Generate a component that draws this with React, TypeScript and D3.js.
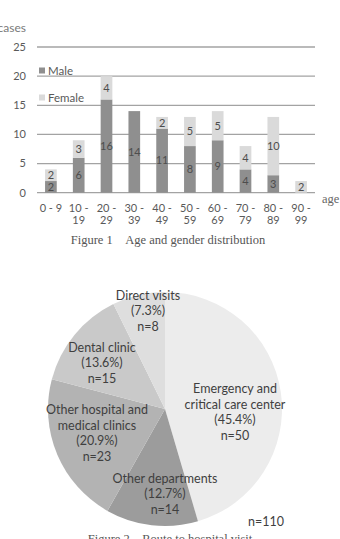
import React from "react";
import * as d3 from "d3";

// Figure 1: age and gender distribution
const ageGroups = ["0 - 9", "10 - 19", "20 - 29", "30 - 39", "40 - 49", "50 - 59", "60 - 69", "70 - 79", "80 - 89", "90 - 99"];
const maleCounts = [2, 6, 16, 14, 11, 8, 9, 4, 3, 0];
const femaleCounts = [2, 3, 4, 0, 2, 5, 5, 4, 10, 2];
const yTicks = [0, 5, 10, 15, 20, 25];

// Figure 2: route to hospital visit
const routeNames = [
  ["Emergency and", "critical care center"],
  ["Other departments"],
  ["Other hospital and", "medical clinics"],
  ["Dental clinic"],
  ["Direct visits"],
];
const routeCounts = [50, 14, 23, 15, 8];
const routePercents = ["45.4%", "12.7%", "20.9%", "13.6%", "7.3%"];
const routeTotal = 110;

const W = 340;
const H = 539;
const SANS = "Lato, 'Open Sans', sans-serif";
const SERIF = "'Liberation Serif', 'DejaVu Serif', serif";

const MALE_COLOR = "#8f8f8f";
const FEMALE_COLOR = "#dadada";
const SLICE_COLORS = ["#ececec", "#9c9c9c", "#b3b3b3", "#c9c9c9", "#dedede"];
// label anchor (center of text block) for each slice
const SLICE_LABEL_POS: [number, number][] = [
  [235, 412],
  [165, 494],
  [97, 433],
  [102, 363],
  [148, 311],
];

function BarChart() {
  const x = d3.scaleBand<string>().domain(ageGroups).range([37, 315]).paddingInner(0.58).paddingOuter(0.29);
  const y = d3.scaleLinear().domain([0, 25]).range([192.7, 47]);
  const stacked = ageGroups.map((g, i) => ({ g, m: maleCounts[i], f: femaleCounts[i] }));
  const labelColor = "#4d4d4d";
  return (
    <g>
      <text x={26} y={32} textAnchor="end" fontFamily={SANS} fontSize={12} fill="#7a7a7a">cases</text>
      {yTicks.map((t) => (
        <g key={t}>
          <line x1={37} x2={315} y1={y(t)} y2={y(t)} stroke="#a3a3a3" strokeWidth={1.3} />
          <text x={26} y={y(t)} dy="0.35em" textAnchor="end" fontFamily={SANS} fontSize={11} fill="#595959">{t}</text>
        </g>
      ))}
      {stacked.map((d) => {
        const x0 = x(d.g)!;
        const bw = x.bandwidth();
        const cx = x0 + bw / 2;
        return (
          <g key={d.g}>
            {d.m > 0 && <rect x={x0} width={bw} y={y(d.m)} height={y(0) - y(d.m)} fill={MALE_COLOR} />}
            {d.f > 0 && <rect x={x0} width={bw} y={y(d.m + d.f)} height={y(d.m) - y(d.m + d.f)} fill={FEMALE_COLOR} />}
            {d.m > 0 && (
              <text x={cx} y={(y(0) + y(d.m)) / 2} dy="0.35em" textAnchor="middle" fontFamily={SANS} fontSize={11} fill={labelColor}>{d.m}</text>
            )}
            {d.f > 0 && (
              <text x={cx} y={(y(d.m) + y(d.m + d.f)) / 2} dy="0.35em" textAnchor="middle" fontFamily={SANS} fontSize={11} fill={labelColor}>{d.f}</text>
            )}
            {d.g.split(" - ").length > 1 && d.g !== "0 - 9" ? (
              <text textAnchor="middle" fontFamily={SANS} fontSize={11} fill="#595959">
                <tspan x={cx} y={212}>{d.g.split(" - ")[0] + " -"}</tspan>
                <tspan x={cx} y={224}>{d.g.split(" - ")[1]}</tspan>
              </text>
            ) : (
              <text x={cx} y={212} textAnchor="middle" fontFamily={SANS} fontSize={11} fill="#595959">{d.g}</text>
            )}
          </g>
        );
      })}
      <text x={322} y={203} fontFamily={SERIF} fontSize={12.5} fill="#666">age</text>
      {/* legend */}
      <rect x={39} y={67.5} width={6} height={6} fill={MALE_COLOR} />
      <text x={48} y={70.5} dy="0.35em" fontFamily={SANS} fontSize={11.5} fill="#595959">Male</text>
      <rect x={39} y={94.5} width={6} height={6} fill={FEMALE_COLOR} />
      <text x={48} y={97.5} dy="0.35em" fontFamily={SANS} fontSize={11.5} fill="#595959">Female</text>
      <text x={168} y={244} textAnchor="middle" fontFamily={SERIF} fontSize={12.5} fill="#555" xmlSpace="preserve">Figure 1{"\u2003"}Age and gender distribution</text>
    </g>
  );
}

function PieChart() {
  const cx = 165;
  const cy = 409;
  const r = 117;
  const pie = d3.pie<number>().sort(null).value((d) => d)(routeCounts);
  const arc = d3.arc<d3.PieArcDatum<number>>().innerRadius(0).outerRadius(r);
  const lineH = 15.5;
  return (
    <g>
      <g transform={`translate(${cx},${cy})`}>
        {pie.map((s, i) => (
          <path key={i} d={arc(s) || ""} fill={SLICE_COLORS[i]} />
        ))}
      </g>
      {pie.map((s, i) => {
        const lines = [...routeNames[i], `(${routePercents[i]})`, `n=${routeCounts[i]}`];
        const [lx, ly] = SLICE_LABEL_POS[i];
        const top = ly - ((lines.length - 1) * lineH) / 2;
        return (
          <text key={i} textAnchor="middle" fontFamily={SANS} fontSize={12.5} fill="#3f3f3f">
            {lines.map((t, j) => (
              <tspan key={j} x={lx} y={top + j * lineH} dy="0.35em">{t}</tspan>
            ))}
          </text>
        );
      })}
      <text x={266} y={522} dy="0.35em" textAnchor="middle" fontFamily={SANS} fontSize={12.5} fill="#3f3f3f">n={routeTotal}</text>
      <text x={170} y={543} textAnchor="middle" fontFamily={SERIF} fontSize={12.5} fill="#555">Figure 2{"\u2003"}Route to hospital visit</text>
    </g>
  );
}

export default function App() {
  return (
    <svg width={W} height={H} viewBox={`0 0 ${W} ${H}`} style={{ position: "absolute", left: 0, top: 0, background: "#fff" }}>
      <rect width={W} height={H} fill="#fff" />
      <BarChart />
      <PieChart />
    </svg>
  );
}
